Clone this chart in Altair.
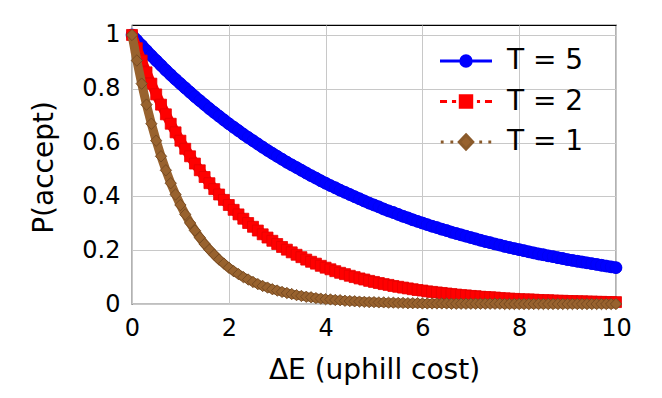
import altair as alt
import pandas as pd

# ---- data -----------------------------------------------------------------
delta_e = [
    0.0, 0.1, 0.2, 0.3, 0.4, 0.5, 0.6, 0.7, 0.8, 0.9,
    1.0, 1.1, 1.2, 1.3, 1.4, 1.5, 1.6, 1.7, 1.8, 1.9,
    2.0, 2.1, 2.2, 2.3, 2.4, 2.5, 2.6, 2.7, 2.8, 2.9,
    3.0, 3.1, 3.2, 3.3, 3.4, 3.5, 3.6, 3.7, 3.8, 3.9,
    4.0, 4.1, 4.2, 4.3, 4.4, 4.5, 4.6, 4.7, 4.8, 4.9,
    5.0, 5.1, 5.2, 5.3, 5.4, 5.5, 5.6, 5.7, 5.8, 5.9,
    6.0, 6.1, 6.2, 6.3, 6.4, 6.5, 6.6, 6.7, 6.8, 6.9,
    7.0, 7.1, 7.2, 7.3, 7.4, 7.5, 7.6, 7.7, 7.8, 7.9,
    8.0, 8.1, 8.2, 8.3, 8.4, 8.5, 8.6, 8.7, 8.8, 8.9,
    9.0, 9.1, 9.2, 9.3, 9.4, 9.5, 9.6, 9.7, 9.8, 9.9,
    10.0,
]

p_t5 = [
    1.000, 0.980, 0.961, 0.942, 0.923, 0.905, 0.887, 0.869, 0.852, 0.835,
    0.819, 0.803, 0.787, 0.771, 0.756, 0.741, 0.726, 0.712, 0.698, 0.684,
    0.670, 0.657, 0.644, 0.631, 0.619, 0.607, 0.595, 0.583, 0.571, 0.560,
    0.549, 0.538, 0.527, 0.517, 0.507, 0.497, 0.487, 0.477, 0.468, 0.458,
    0.449, 0.440, 0.432, 0.423, 0.415, 0.407, 0.399, 0.391, 0.383, 0.375,
    0.368, 0.361, 0.353, 0.346, 0.340, 0.333, 0.326, 0.320, 0.313, 0.307,
    0.301, 0.295, 0.289, 0.284, 0.278, 0.273, 0.267, 0.262, 0.257, 0.252,
    0.247, 0.242, 0.237, 0.232, 0.228, 0.223, 0.219, 0.214, 0.210, 0.206,
    0.202, 0.198, 0.194, 0.190, 0.186, 0.183, 0.179, 0.176, 0.172, 0.169,
    0.165, 0.162, 0.159, 0.156, 0.153, 0.150, 0.147, 0.144, 0.141, 0.138,
    0.135,
]

p_t2 = [
    1.000, 0.951, 0.905, 0.861, 0.819, 0.779, 0.741, 0.705, 0.670, 0.638,
    0.607, 0.577, 0.549, 0.522, 0.497, 0.472, 0.449, 0.427, 0.407, 0.387,
    0.368, 0.350, 0.333, 0.317, 0.301, 0.287, 0.273, 0.259, 0.247, 0.235,
    0.223, 0.212, 0.202, 0.192, 0.183, 0.174, 0.165, 0.157, 0.150, 0.142,
    0.135, 0.129, 0.122, 0.116, 0.111, 0.105, 0.100, 0.095, 0.091, 0.086,
    0.082, 0.078, 0.074, 0.071, 0.067, 0.064, 0.061, 0.058, 0.055, 0.052,
    0.050, 0.047, 0.045, 0.043, 0.041, 0.039, 0.037, 0.035, 0.033, 0.032,
    0.030, 0.029, 0.027, 0.026, 0.025, 0.024, 0.022, 0.021, 0.020, 0.019,
    0.018, 0.017, 0.017, 0.016, 0.015, 0.014, 0.014, 0.013, 0.012, 0.012,
    0.011, 0.011, 0.010, 0.010, 0.009, 0.009, 0.008, 0.008, 0.007, 0.007,
    0.007,
]

p_t1 = [
    1.000, 0.905, 0.819, 0.741, 0.670, 0.607, 0.549, 0.497, 0.449, 0.407,
    0.368, 0.333, 0.301, 0.273, 0.247, 0.223, 0.202, 0.183, 0.165, 0.150,
    0.135, 0.122, 0.111, 0.100, 0.091, 0.082, 0.074, 0.067, 0.061, 0.055,
    0.050, 0.045, 0.041, 0.037, 0.033, 0.030, 0.027, 0.025, 0.022, 0.020,
    0.018, 0.017, 0.015, 0.014, 0.012, 0.011, 0.010, 0.009, 0.008, 0.007,
    0.007, 0.006, 0.006, 0.005, 0.005, 0.004, 0.004, 0.003, 0.003, 0.003,
    0.002, 0.002, 0.002, 0.002, 0.002, 0.002, 0.001, 0.001, 0.001, 0.001,
    0.001, 0.001, 0.001, 0.001, 0.001, 0.001, 0.001, 0.000, 0.000, 0.000,
    0.000, 0.000, 0.000, 0.000, 0.000, 0.000, 0.000, 0.000, 0.000, 0.000,
    0.000, 0.000, 0.000, 0.000, 0.000, 0.000, 0.000, 0.000, 0.000, 0.000,
    0.000,
]

series_names = ["T = 5", "T = 2", "T = 1"]
series_values = [p_t5, p_t2, p_t1]
x_ticks = [0, 2, 4, 6, 8, 10]
y_ticks = [0, 0.2, 0.4, 0.6, 0.8, 1]

rows = []
for name, vals in zip(series_names, series_values):
    for xv, yv in zip(delta_e, vals):
        rows.append({"dE": xv, "p": yv, "series": name})
df = pd.DataFrame(rows)

# ---- styles ----------------------------------------------------------------
FONT = "DejaVu Sans"
styles = {
    "T = 5": dict(color="#0000ff", edge="#0000ee", band=12, shape="circle", size=140),
    "T = 2": dict(color="#ff0000", edge="#e60000", band=10, shape="square", size=120),
    "T = 1": dict(color="#98622e", edge="#6e4520", band=9, shape="diamond", size=130),
}

# legend symbols: custom paths in a unit box of 13 px (scale 6.5 px / unit),
# line part spans 52 px, marker in the middle
legend_fill = ["#0000ff", "#ff0000", "#98622e"]
legend_stroke = ["#0000ff", "#ff0000", "#8a5a2b"]
legend_paths = [
    "M-4,0H4M-0.8,0A0.8,0.8 0 1,0 0.8,0A0.8,0.8 0 1,0 -0.8,0Z",
    "M-4,0H-2.92M-2.16,0H-1.52M1.68,0H2.16M2.92,0H4"
    "M-0.88,-0.88H0.88V0.88H-0.88Z",
    "M-3.88,0H-3.44M-2.4,0H-1.96M2.04,0H2.48M3.44,0H3.88"
    "M0,-1.1L1.04,0L0,1.1L-1.04,0Z",
]

x_enc = alt.X(
    "dE:Q",
    scale=alt.Scale(domain=[0, 10], nice=False, zero=False),
    axis=alt.Axis(
        values=x_ticks,
        title="ΔE (uphill cost)",
        titleY=74,
        titleBaseline="alphabetic",
        labelPadding=12,
        labelFlush=False,
    ),
)
y_enc = alt.Y(
    "p:Q",
    scale=alt.Scale(domain=[0, 1.037], nice=False, zero=False),
    axis=alt.Axis(
        values=y_ticks,
        format="~g",
        title="P(accept)",
        titleX=-80,
        titleY=142,
        titleAngle=270,
        titleBaseline="alphabetic",
        titleAlign="center",
        labelPadding=12,
        labelFlush=False,
    ),
)

layers = []
for name in series_names:
    st = styles[name]
    base = alt.Chart(df).transform_filter(alt.datum.series == name)
    band = base.mark_line(
        color=st["color"], strokeWidth=st["band"], strokeCap="round", strokeJoin="round"
    ).encode(x=x_enc, y=y_enc)
    pts = base.mark_point(
        filled=True,
        shape=st["shape"],
        size=st["size"],
        fill=st["color"],
        stroke=st["edge"],
        strokeWidth=0.8,
        opacity=1,
    ).encode(x=x_enc, y=y_enc)
    layers += [band, pts]

leg = alt.Legend(
    title=None,
    orient="none",
    legendX=320,
    legendY=22,
    symbolSize=169,
    symbolStrokeWidth=3,
    labelFont=FONT,
    labelFontSize=28,
    labelColor="black",
    labelOffset=27,
    rowPadding=12.5,
    padding=0,
)

legend_layer = (
    alt.Chart(df)
    .transform_filter("false")
    .mark_point(filled=True, opacity=1, strokeWidth=3)
    .encode(
        x=x_enc,
        y=y_enc,
        fill=alt.Fill("series:N", scale=alt.Scale(domain=series_names, range=legend_fill), legend=leg),
        stroke=alt.Stroke("series:N", scale=alt.Scale(domain=series_names, range=legend_stroke), legend=leg),
        shape=alt.Shape("series:N", scale=alt.Scale(domain=series_names, range=legend_paths), legend=leg),
    )
)
layers.append(legend_layer)

chart = (
    alt.layer(*layers)
    .properties(
        width=484,
        height=279,
        autosize=alt.AutoSizeParams(type="none"),
        padding={"left": 124, "top": 17, "right": 30, "bottom": 88},
        background="white",
    )
    .configure_view(stroke="black", strokeWidth=1.2)
    .configure_axis(
        grid=True,
        gridColor="#c8c8c8",
        gridWidth=1,
        domain=False,
        ticks=False,
        labelFont=FONT,
        labelFontSize=24,
        labelColor="black",
        titleFont=FONT,
        titleFontSize=28,
        titleFontWeight="normal",
        titleColor="black",
    )
)

chart.save("out.html", embed_options={"renderer": "svg", "actions": False})
